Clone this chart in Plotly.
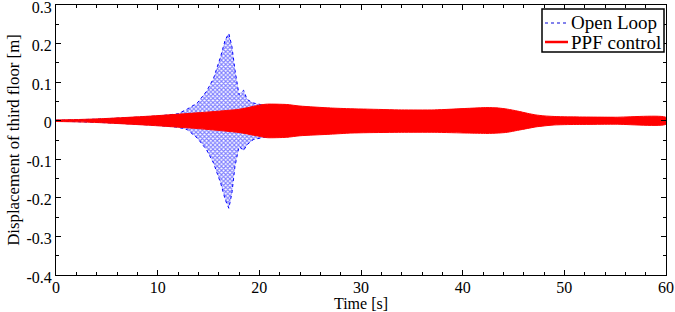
import plotly.graph_objects as go

# Open loop envelope (upper / lower)
ol_t     = [0, 4, 8, 10, 12, 12.9, 13.9, 14.8, 15.5, 16.2, 16.65, 17.0, 17.3, 17.6, 18.0, 18.45, 18.8, 19.4, 20.1, 22, 25, 30]
ol_upper = [0.001, 0.004, 0.009, 0.012, 0.018, 0.030, 0.046, 0.076, 0.110, 0.167, 0.210, 0.226, 0.193, 0.132, 0.068, 0.079, 0.055, 0.046, 0.042, 0.035, 0.025, 0.015]
ol_lower = [-0.001, -0.004, -0.009, -0.012, -0.017, -0.023, -0.045, -0.075, -0.110, -0.162, -0.205, -0.227, -0.188, -0.119, -0.067, -0.077, -0.062, -0.049, -0.045, -0.035, -0.025, -0.015]

# PPF control envelope
ppf_t     = [0, 2, 4.3, 9.3, 14.2, 18.1, 20.1, 20.8, 22.7, 24, 27, 29, 30.6, 34, 37.2, 40.5, 42.4, 43.5, 44.4, 45.4, 46.4, 47.2, 48, 49, 50.3, 55, 60]
ppf_upper = [0.002, 0.003, 0.005, 0.012, 0.021, 0.030, 0.041, 0.043, 0.042, 0.038, 0.033, 0.031, 0.030, 0.028, 0.028, 0.032, 0.034, 0.033, 0.030, 0.025, 0.019, 0.015, 0.0125, 0.011, 0.010, 0.009, 0.0085]
ppf_lower = [-0.002, -0.003, -0.005, -0.012, -0.021, -0.031, -0.041, -0.044, -0.043, -0.039, -0.035, -0.032, -0.031, -0.030, -0.030, -0.032, -0.033, -0.032, -0.030, -0.025, -0.020, -0.016, -0.0135, -0.011, -0.010, -0.009, -0.009]

series_names = ["Open Loop", "PPF control"]

x_ticks = [0, 10, 20, 30, 40, 50, 60]
y_ticks = [-0.4, -0.3, -0.2, -0.1, 0, 0.1, 0.2, 0.3]
y_tick_labels = ["-0.4", "-0.3", "-0.2", "-0.1", "0", "0.1", "0.2", "0.3"]

BLUE = "rgb(0,0,255)"
RED = "rgb(255,0,0)"
FONT = "Liberation Serif, Times New Roman, Times, serif"

fig = go.Figure()

fig.add_trace(go.Scatter(
    x=ol_t + ol_t[::-1], y=ol_upper + ol_lower[::-1],
    fill="toself", mode="lines", name=series_names[0],
    line=dict(color=BLUE, width=1, dash="dot"),
    fillcolor="rgba(255,255,255,0)",
    fillpattern=dict(shape="x", fgcolor=BLUE, bgcolor="rgba(255,255,255,0)", size=3, solidity=0.6),
    showlegend=False, hoverinfo="skip"))

fig.add_trace(go.Scatter(
    x=ppf_t + ppf_t[::-1], y=ppf_upper + ppf_lower[::-1],
    fill="toself", mode="lines", name=series_names[1],
    line=dict(color=RED, width=1, shape="spline", smoothing=0.6),
    fillcolor=RED,
    showlegend=False, hoverinfo="skip"))

# Plot area in pixels: x 56..666, y 5..275
L, R, T, B = 56, 666, 5, 275
def px(x): return (x - L) / (R - L)
def py(y): return (B - y) / (B - T)

# Manual legend (box, line samples, labels)
shapes = [
    dict(type="rect", xref="paper", yref="paper", x0=px(542), x1=px(664), y0=py(52), y1=py(9),
         line=dict(color="black", width=1.5), fillcolor="white", layer="above"),
    dict(type="line", xref="paper", yref="paper", x0=px(545), x1=px(568), y0=py(23), y1=py(23),
         line=dict(color="rgb(90,90,230)", width=1.5, dash="dot"), layer="above"),
    dict(type="line", xref="paper", yref="paper", x0=px(545), x1=px(568), y0=py(42), y1=py(42),
         line=dict(color=RED, width=2.5), layer="above"),
]
annotations = [
    dict(xref="paper", yref="paper", x=px(569), y=py(23), text=series_names[0], showarrow=False,
         xanchor="left", yanchor="middle", font=dict(family=FONT, size=19, color="black")),
    dict(xref="paper", yref="paper", x=px(569), y=py(42), text=series_names[1], showarrow=False,
         xanchor="left", yanchor="middle", font=dict(family=FONT, size=19, color="black")),
]

axis_common = dict(
    showline=True, linecolor="black", linewidth=1, mirror="allticks",
    ticks="inside", ticklen=5, tickcolor="black", showgrid=False, zeroline=False,
    tickfont=dict(family=FONT, size=16, color="black"), automargin=False,
    ticklabeloverflow="allow",
)

fig.update_xaxes(range=[0, 60], tickvals=x_ticks,
                 ticklabelstandoff=-2,
                 minor=dict(ticks="inside", dtick=2, ticklen=3, tickcolor="black"),
                 title=dict(text="Time [s]", font=dict(family=FONT, size=16, color="black"), standoff=4),
                 **axis_common)
fig.update_yaxes(range=[-0.4, 0.3], tickvals=y_ticks, ticktext=y_tick_labels,
                 ticklabelshift=2,
                 minor=dict(ticks="inside", dtick=0.05, ticklen=3, tickcolor="black"),
                 title=dict(text="Displacement of third floor [m]", font=dict(family=FONT, size=16.8, color="black"), standoff=2),
                 **axis_common)

fig.update_layout(
    width=675, height=312,
    margin=dict(l=L, r=675 - R, t=T, b=312 - B, autoexpand=False),
    paper_bgcolor="white", plot_bgcolor="white",
    font=dict(family=FONT, size=16, color="black"),
    showlegend=False,
    shapes=shapes, annotations=annotations,
)

fig.write_html("out.html", config={"displayModeBar": False},
               post_script="document.body.style.margin='0';document.body.style.padding='0';")
